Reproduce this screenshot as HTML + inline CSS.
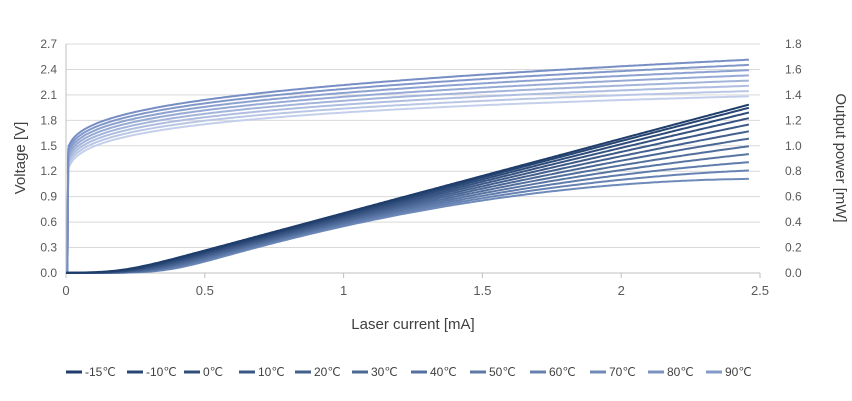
<!DOCTYPE html>
<html><head><meta charset="utf-8"><style>
body{margin:0;background:#fff;}
svg{display:block;font-family:"Liberation Sans",sans-serif;}
</style></head><body>
<svg id="s" width="852" height="401" viewBox="0 0 852 401"></svg>
<script>
const s=document.getElementById('s');
let h='';
const X0=66,XS=277.6,Y0=273,YT=44;
const yV=v=>Y0-(v/2.7)*(Y0-YT), yP=p=>Y0-(p/1.8)*(Y0-YT), xI=i=>X0+i*XS;
for(let k=0;k<=9;k++){const y=Y0-k*(Y0-YT)/9;
 h+=`<line x1="${X0}" y1="${y}" x2="760" y2="${y}" stroke="#d9d9d9" stroke-width="1"/>`;
 h+=`<text x="57" y="${y+4}" font-size="12" fill="#595959" text-anchor="end">${(k*0.3).toFixed(1)}</text>`;
 h+=`<text x="785" y="${y+4}" font-size="12" fill="#595959">${(k*0.2).toFixed(1)}</text>`;}
h+=`<line x1="${X0}" y1="${YT}" x2="${X0}" y2="${Y0}" stroke="#bfbfbf"/>`;
h+=`<line x1="${X0}" y1="${Y0}" x2="760" y2="${Y0}" stroke="#bfbfbf"/>`;
['0','0.5','1','1.5','2','2.5'].forEach((t,i)=>{const x=xI(i*0.5);
 h+=`<line x1="${x}" y1="${Y0}" x2="${x}" y2="${Y0+5}" stroke="#bfbfbf"/>`;
 h+=`<text x="${x}" y="295" font-size="13" fill="#595959" text-anchor="middle">${t}</text>`;});
h+=`<text x="413" y="329" font-size="15" fill="#404040" text-anchor="middle">Laser current [mA]</text>`;
h+=`<text transform="translate(25,158) rotate(-90)" font-size="15" fill="#404040" text-anchor="middle">Voltage [V]</text>`;
h+=`<text transform="translate(836,158) rotate(90)" font-size="15" fill="#404040" text-anchor="middle">Output power [mW]</text>`;
function mix(a,b,t){return 'rgb('+a.map((c,i)=>Math.round(c+(b[i]-c)*t)).join(',')+')';}
// voltage curves
const NV=8;
for(let n=NV-1;n>=0;n--){const t=n/(NV-1);
 const b=1.0, r=0.032+(-0.042-0.032)*t;
 const a2=1.5-0.316-0.25*t;
 let d=`M${xI(0.005)},${Y0} L${xI(0.008)},${yV(a2+b*Math.pow(0.01,0.25)+r*0.01-0.05)}`;
 for(let i=0.01;i<=2.46;i+=0.01){d+=` L${xI(i).toFixed(1)},${yV(a2+b*Math.pow(i,0.25)+r*i).toFixed(1)}`;}
 h+=`<path d="${d}" fill="none" stroke="${mix([118,142,196],[196,208,235],t)}" stroke-width="2"/>`;}
// power curves
const N=12;
for(let n=N-1;n>=0;n--){const t=n/(N-1);const u=Math.pow(t,1.5);
 const ith=0.2+0.17*t, sl=0.59+(0.682-0.59)*u, q=0.002+(0.157-0.002)*u;
 let d='';
 for(let i=0;i<=2.46;i+=0.01){const w=0.06;const e=w*Math.log(1+Math.exp((i-ith)/w));
  const p=Math.max(0,sl*e-q*e*e);d+=(d?' L':'M')+xI(i).toFixed(1)+','+yP(p).toFixed(1);}
 h+=`<path d="${d}" fill="none" stroke="${mix([31,61,107],[110,138,186],t)}" stroke-width="2"/>`;}
// legend
const labs=['-15℃','-10℃','0℃','10℃','20℃','30℃','40℃','50℃','60℃','70℃','80℃','90℃'];
const lx=[66,127,184,239,295,352,411,470,530,590,648,706];
labs.forEach((l,i)=>{const t=i/11;const c=mix([31,61,107],[130,155,200],t);
 h+=`<line x1="${lx[i]}" y1="372" x2="${lx[i]+16}" y2="372" stroke="${c}" stroke-width="3"/>`;
 h+=`<text x="${lx[i]+19}" y="376" font-size="12" fill="#404040">${l}</text>`;});
s.innerHTML=h;
</script>
</body></html>
